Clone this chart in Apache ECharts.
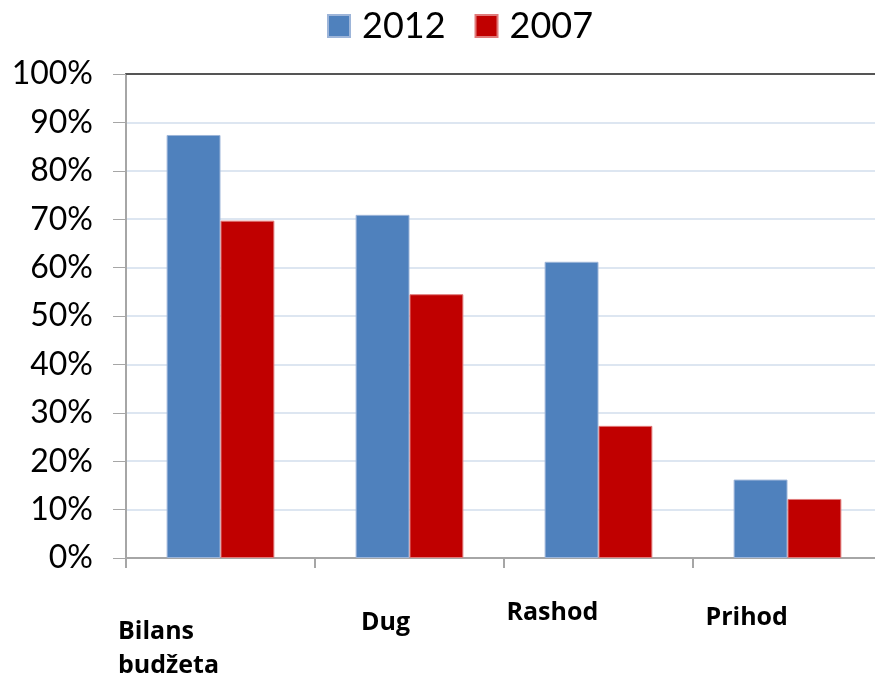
<!DOCTYPE html>
<html>
<head>
<meta charset="utf-8">
<script src="https://cdn.jsdelivr.net/npm/echarts@6/dist/echarts.min.js"></script>
<style>
  html, body { margin: 0; padding: 0; background: #fff; overflow: hidden; }
  #chart { width: 875px; height: 679px; }
</style>
</head>
<body>
<div id="chart"></div>
<script>
// Budget indicators, share (%) by year
const categories = ['Bilans\nbudžeta', 'Dug', 'Rashod', 'Prihod'];
const values2012 = [87.4, 70.9, 61.2, 16.2];
const values2007 = [69.7, 54.5, 27.3, 12.2];
const seriesNames = ['2012', '2007'];
const yTicks = [0, 10, 20, 30, 40, 50, 60, 70, 80, 90, 100];

// Per-category label placement: box width (text is left-aligned in it) and drop below the axis
const labelBoxWidth = [205, 97, 184, 164];
const labelDrop = [57, 48, 38, 43];

const chart = echarts.init(document.getElementById('chart'));

const rich = {};
labelBoxWidth.forEach((w, i) => {
  rich['c' + i] = {
    width: w,
    align: 'left',
    fontFamily: 'Open Sans',
    fontWeight: 'bold',
    fontSize: 25,
    lineHeight: 34,
    color: '#000'
  };
});

const option = {
  animation: false,
  legend: {
    data: seriesNames,
    top: 3,
    left: 322,
    itemWidth: 22,
    itemHeight: 22,
    itemGap: 29,
    icon: 'rect',
    textStyle: { fontFamily: 'Lato', fontSize: 36, color: '#000', padding: [0, 0, 0, 7] }
  },
  grid: {
    left: 126, right: -7, top: 74, bottom: 121,
    containLabel: false,
    outerBoundsMode: 'none'
  },
  xAxis: [{
    type: 'category',
    data: categories.map((c, i) => ({
      value: c,
      textStyle: { padding: [labelDrop[i], 0, 0, 0] }
    })),
    axisLine: { lineStyle: { color: '#a6a6a6', width: 2 } },
    axisTick: { show: true, length: 10, lineStyle: { color: '#a6a6a6', width: 2 } },
    axisLabel: {
      interval: 0,
      margin: 0,
      formatter: function (val, idx) {
        return val.split('\n').map(line => '{c' + idx + '|' + line + '}').join('\n');
      },
      rich: rich
    }
  }, {
    type: 'category',
    position: 'top',
    data: categories,
    axisLine: { lineStyle: { color: '#555', width: 2 } },
    axisTick: { show: false },
    axisLabel: { show: false }
  }],
  yAxis: {
    type: 'value',
    min: yTicks[0],
    max: yTicks[yTicks.length - 1],
    interval: 10,
    axisLine: { show: true, lineStyle: { color: '#a6a6a6', width: 2 } },
    axisTick: { show: true, length: 13, lineStyle: { color: '#a6a6a6', width: 1 } },
    axisLabel: {
      formatter: '{value}%',
      fontFamily: 'Lato',
      fontSize: 32,
      color: '#000',
      margin: 33
    },
    splitLine: { lineStyle: { color: '#dde6f1', width: 2 } }
  },
  series: [{
    name: seriesNames[0],
    type: 'bar',
    data: values2012,
    barGap: '0%',
    barCategoryGap: '43%',
    itemStyle: { color: '#4f81bd', borderColor: '#9db5d9', borderWidth: 1 }
  }, {
    name: seriesNames[1],
    type: 'bar',
    data: values2007,
    itemStyle: { color: '#c00000', borderColor: '#e07a7a', borderWidth: 1 }
  }]
};

chart.setOption(option);
</script>
</body>
</html>
